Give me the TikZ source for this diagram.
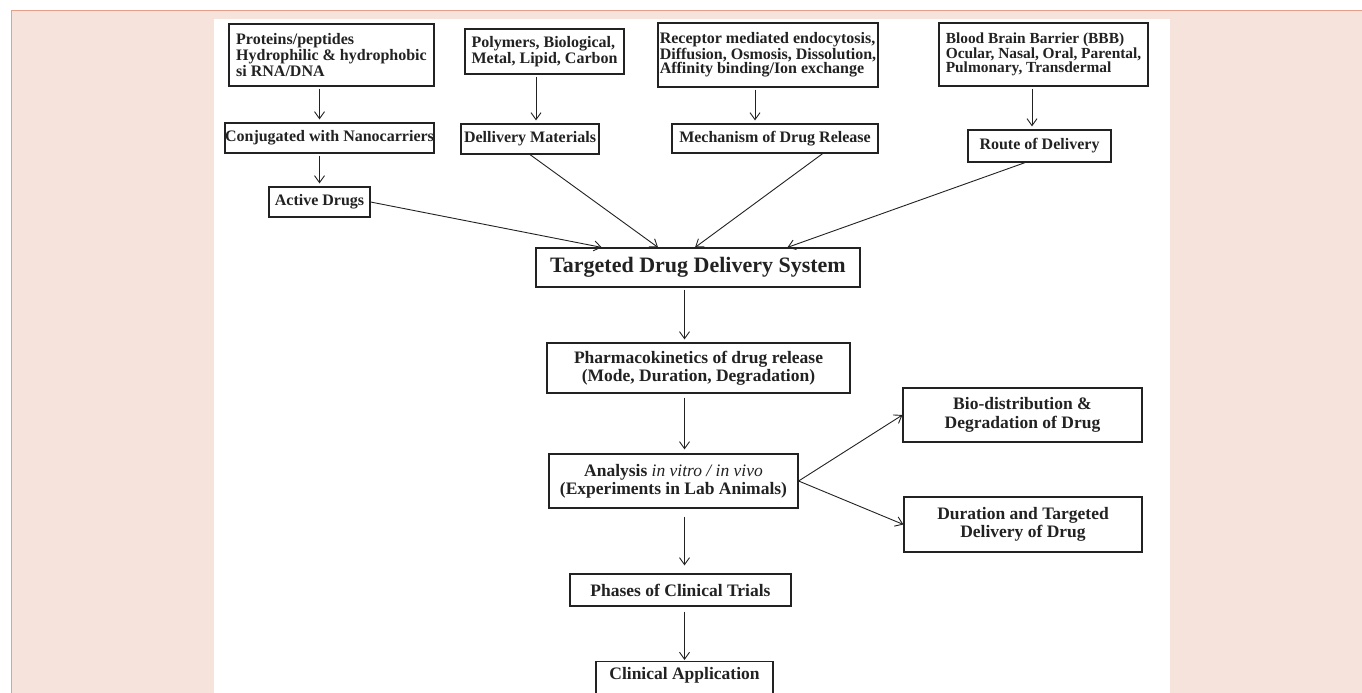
\documentclass[tikz,border=0pt]{standalone}
\usepackage{fontspec}
\setmainfont{Liberation Serif}
\usetikzlibrary{arrows.meta,positioning,calc}
\definecolor{peach}{HTML}{F6E4DC}
\definecolor{peachline}{HTML}{E3A08C}
\definecolor{ink}{HTML}{222222}

\begin{document}
\begin{tikzpicture}[x=1pt,y=-1pt,
	box/.style={draw=ink, line width=1.2pt, text=ink, inner sep=0pt, font=\bfseries\fontsize{16}{14.2}\selectfont},
	topbox/.style={box, align=left},
	lowbox/.style={box, align=center, font=\bfseries\fontsize{17.5}{18.3}\selectfont},
	arr/.style={-{Straight Barb[length=7pt,width=10pt]}, line width=0.9pt, draw=ink},
	varr/.style={arr, shorten <=2pt, shorten >=3pt}]
	\clip (0,0) rectangle (1362,693);
	\fill[white] (0,0) rectangle (1362,693);
	\fill[peach] (11,11) rectangle (1362,693);
	\draw[peachline, line width=1pt] (11,693) -- (11,11) -- (1362,11);
	\fill[white] (214,19) rectangle (1170,693);
	% upper row of inputs
	\node[topbox, minimum width=205pt, minimum height=62pt] (prot) at (331.5,55) {Proteins/peptides\\Hydrophilic \& hydrophobic\\si RNA/DNA};
	\node[box, minimum width=209pt, minimum height=30pt] (conj) at (329.5,138) {Conjugated with Nanocarriers};
	\node[box, minimum width=101pt, minimum height=30pt] (active) at (319.5,202) {Active Drugs};
	\node[topbox, minimum width=159pt, minimum height=45pt] (poly) at (544.5,51.5) {Polymers, Biological,\\Metal, Lipid, Carbon};
	\node[box, minimum width=138pt, minimum height=30pt] (mat) at (530,139) {Dellivery Materials};
	\node[topbox, minimum width=220pt, minimum height=64pt] (recep) at (768,55) {Receptor mediated endocytosis,\\Diffusion, Osmosis, Dissolution,\\Affinity binding/Ion exchange};
	\node[box, minimum width=206pt, minimum height=29pt] (mech) at (775,138.5) {Mechanism of Drug Release};
	\node[topbox, minimum width=209pt, minimum height=63pt, font=\bfseries\fontsize{15.4}{14.2}\selectfont] (bbb) at (1043.5,54.5) {Blood Brain Barrier (BBB)\\Ocular, Nasal, Oral, Parental,\\Pulmonary, Transdermal};
	\node[box, minimum width=143pt, minimum height=32pt] (route) at (1039.5,146) {Route of Delivery};
	% central column
	\node[box, minimum width=324pt, minimum height=39pt, font=\bfseries\fontsize{22}{24}\selectfont] (tdds) at (698,267.5) {Targeted Drug Delivery System};
	\node[lowbox, minimum width=303pt, minimum height=50pt] (pk) at (698.5,368) {Pharmacokinetics of drug release\\(Mode, Duration, Degradation)};
	\node[lowbox, minimum width=249pt, minimum height=54pt] (anal) at (673.5,481) {Analysis \textmd{\textit{in vitro / in vivo}}\\(Experiments in Lab Animals)};
	\node[lowbox, minimum width=239pt, minimum height=54pt] (bio) at (1022.5,415) {Bio-distribution \&\\Degradation of Drug};
	\node[lowbox, minimum width=238pt, minimum height=55pt] (dur) at (1023,524.5) {Duration and Targeted\\Delivery of Drug};
	\node[lowbox, minimum width=221pt, minimum height=32pt] (phase) at (680.5,590) {Phases of Clinical Trials};
	\node[lowbox, minimum width=177pt, inner ysep=6pt, text depth=30pt, anchor=north] (clin) at (684.5,661) {Clinical Application};
	% arrows
	\coordinate (matin) at ([xshift=6pt]mat.north);
	\coordinate (mechin) at ([xshift=-20pt]mech.north);
	\coordinate (routein) at ([xshift=-7.5pt]route.north);
	\draw[varr] (prot.south -| active.north) -- (conj.north -| active.north);
	\draw[varr] (conj.south -| active.north) -- (active.north);
	\draw[varr] (matin |- poly.south) -- (matin);
	\draw[varr] (mechin |- recep.south) -- (mechin);
	\draw[varr] (routein |- bbb.south) -- (routein);
	\draw[arr] (active.east) -- ($(tdds.north west)!0.204!(tdds.north east)$);
	\draw[arr] (mat.south) -- ($(tdds.north west)!0.377!(tdds.north east)$);
	\draw[arr] ($(mech.south west)!0.73!(mech.south east)$) -- ($(tdds.north west)!0.491!(tdds.north east)$);
	\draw[arr] ($(route.south west)!0.4!(route.south east)$) -- ($(tdds.north west)!0.775!(tdds.north east)$);
	\draw[varr] (tdds.south -| clin.north) -- (pk.north -| clin.north);
	\draw[varr, shorten <=4pt, shorten >=4pt] (pk.south -| clin.north) -- (anal.north -| clin.north);
	\draw[varr, shorten <=8pt, shorten >=8pt] (anal.south -| clin.north) -- (phase.north -| clin.north);
	\draw[varr, shorten <=5pt, shorten >=1pt] (phase.south -| clin.north) -- (clin.north);
	\draw[arr] (anal.east) -- (bio.west);
	\draw[arr] (anal.east) -- (dur.west);
\end{tikzpicture}
\end{document}
